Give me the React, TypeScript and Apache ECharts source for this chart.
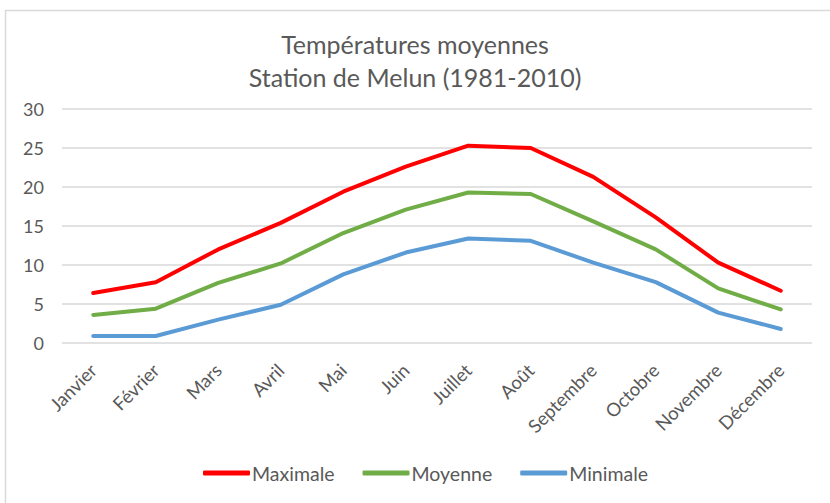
import React, { useEffect, useRef } from "react";
import * as echarts from "echarts";

const months = ["Janvier", "Février", "Mars", "Avril", "Mai", "Juin", "Juillet", "Août", "Septembre", "Octobre", "Novembre", "Décembre"];
const maximale = [6.4, 7.8, 12.0, 15.4, 19.4, 22.6, 25.3, 25.0, 21.3, 16.1, 10.3, 6.7];
const moyenne = [3.6, 4.4, 7.7, 10.2, 14.1, 17.1, 19.3, 19.1, 15.6, 12.0, 7.0, 4.3];
const minimale = [0.9, 0.9, 3.0, 4.9, 8.8, 11.6, 13.4, 13.1, 10.3, 7.8, 3.9, 1.8];
const titleLines = ["Températures moyennes", "Station de Melun (1981-2010)"];

const FONT = "Lato, 'Open Sans', sans-serif";

export default function App() {
  const ref = useRef<HTMLDivElement>(null);
  useEffect(() => {
    if (!ref.current) return;
    const chart = echarts.init(ref.current, null, { renderer: "svg" });
    const mk = (name: string, data: number[], color: string) => ({
      name,
      type: "line",
      data,
      symbol: "none",
      lineStyle: { width: 4, color, cap: "round", join: "round" },
      itemStyle: { color },
    });
    chart.setOption({
      animation: false,
      backgroundColor: "#ffffff",
      textStyle: { fontFamily: FONT },
      title: {
        text: titleLines.join("\n"),
        left: "center",
        top: 22,
        textStyle: { fontFamily: FONT, fontSize: 25, fontWeight: "normal", color: "#595959", lineHeight: 33 },
      },
      legend: {
        top: 458,
        left: 198,
        icon: "roundRect",
        itemWidth: 47,
        itemHeight: 5,
        itemGap: 28,
        textStyle: { fontFamily: FONT, fontSize: 19.5, color: "#595959", padding: [0, 0, 0, -3] },
        data: ["Maximale", "Moyenne", "Minimale"],
      },
      grid: { left: 62, right: 18, top: 109, bottom: 160, containLabel: false },
      xAxis: {
        type: "category",
        data: months,
        boundaryGap: true,
        axisLine: { show: false },
        axisTick: { show: false },
        axisLabel: { rotate: 45, fontFamily: FONT, fontSize: 18.5, color: "#595959", margin: 24, interval: 0 },
      },
      yAxis: {
        type: "value",
        min: 0,
        max: 30,
        interval: 5,
        axisLine: { show: false },
        axisTick: { show: false },
        axisLabel: { fontFamily: FONT, fontSize: 18, color: "#595959", margin: 18 },
        splitLine: { lineStyle: { color: "#d9d9d9", width: 1.5 } },
      },
      graphic: [
        {
          type: "rect",
          left: 3,
          top: 8,
          shape: { width: 840, height: 520 },
          style: { fill: "none", stroke: "#d9d9d9", lineWidth: 1.5 },
          silent: true,
        },
      ],
      series: [
        mk("Maximale", maximale, "#ff0000"),
        mk("Moyenne", moyenne, "#70ad47"),
        mk("Minimale", minimale, "#5b9bd5"),
      ],
    });
    return () => chart.dispose();
  }, []);
  return <div ref={ref} style={{ position: "fixed", left: 0, top: 0, width: 830, height: 503 }} />;
}
